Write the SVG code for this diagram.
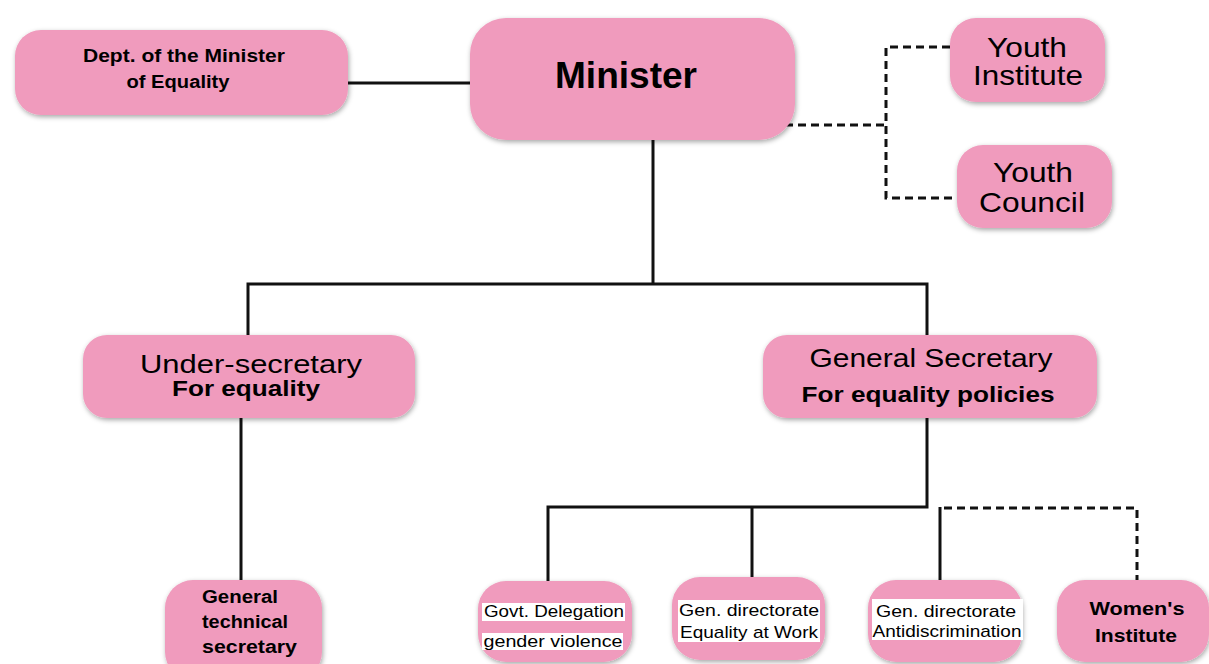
<svg xmlns="http://www.w3.org/2000/svg" width="1209" height="664" viewBox="0 0 1209 664">
<style>
.box{fill:#F09BBD;filter:url(#sh)}
.ln{stroke:#111;stroke-width:3;fill:none}
.dl{stroke:#111;stroke-width:3;fill:none;stroke-dasharray:8 5}
text{font-family:"Liberation Sans",Arial,sans-serif;fill:#000;text-anchor:middle}
.b{font-weight:bold}
.wb{fill:#fff}
</style>
<defs>
<filter id="sh" x="-10%" y="-10%" width="120%" height="130%">
<feDropShadow dx="1" dy="2" stdDeviation="2.5" flood-color="#000" flood-opacity="0.35"/>
</filter>
</defs>
<rect width="1209" height="664" fill="#fff"/>
<g id="connectors">
<line class="ln" x1="348" y1="83" x2="472" y2="83"/>
<polyline class="dl" points="785,125 886,125"/>
<polyline class="dl" points="950,47 886,47 886,198 957,198"/>
<line class="ln" x1="653" y1="140" x2="653" y2="284"/>
<polyline class="ln" points="248,337 248,284 927,284 927,337"/>
<line class="ln" x1="241" y1="418" x2="241" y2="582"/>
<polyline class="ln" points="927,418 927,507 548,507 548,582"/>
<line class="ln" x1="752" y1="507" x2="752" y2="578"/>
<line class="ln" x1="940" y1="507" x2="940" y2="580"/>
<polyline class="dl" points="944,508 1137,508 1137,580"/>
</g>
<g id="dept">
<rect class="box" x="15" y="30" width="333" height="85" rx="26"/>
<text class="b" x="184" y="62" font-size="18" textLength="202" lengthAdjust="spacingAndGlyphs">Dept. of the Minister</text>
<text class="b" x="178" y="88" font-size="18" textLength="103" lengthAdjust="spacingAndGlyphs">of Equality</text>
</g>
<g id="minister">
<rect class="box" x="470" y="18" width="325" height="122" rx="36"/>
<text class="b" x="626" y="88" font-size="37" textLength="142" lengthAdjust="spacingAndGlyphs">Minister</text>
</g>
<g id="youth-institute">
<rect class="box" x="950" y="18" width="155" height="84" rx="26"/>
<text x="1027" y="57" font-size="28" textLength="80" lengthAdjust="spacingAndGlyphs">Youth</text>
<text x="1028" y="85" font-size="28" textLength="110" lengthAdjust="spacingAndGlyphs">Institute</text>
</g>
<g id="youth-council">
<rect class="box" x="957" y="145" width="155" height="83" rx="26"/>
<text x="1033" y="182" font-size="28" textLength="80" lengthAdjust="spacingAndGlyphs">Youth</text>
<text x="1032" y="212" font-size="28" textLength="106" lengthAdjust="spacingAndGlyphs">Council</text>
</g>
<g id="under-secretary">
<rect class="box" x="83" y="335" width="332" height="83" rx="24"/>
<text x="251" y="373" font-size="25" textLength="222" lengthAdjust="spacingAndGlyphs">Under-secretary</text>
<text class="b" x="246" y="396" font-size="22" textLength="148" lengthAdjust="spacingAndGlyphs">For equality</text>
</g>
<g id="general-secretary">
<rect class="box" x="763" y="335" width="334" height="83" rx="24"/>
<text x="931" y="367" font-size="25" textLength="243" lengthAdjust="spacingAndGlyphs">General Secretary</text>
<text class="b" x="928" y="402" font-size="22" textLength="253" lengthAdjust="spacingAndGlyphs">For equality policies</text>
</g>
<g id="general-technical-secretary">
<rect class="box" x="165" y="580" width="157" height="100" rx="28"/>
<text class="b" x="202" y="603" font-size="18" text-anchor="start" style="text-anchor:start" textLength="76" lengthAdjust="spacingAndGlyphs">General</text>
<text class="b" x="202" y="628" font-size="18" style="text-anchor:start" textLength="86" lengthAdjust="spacingAndGlyphs">technical</text>
<text class="b" x="202" y="653" font-size="18" style="text-anchor:start" textLength="95" lengthAdjust="spacingAndGlyphs">secretary</text>
</g>
<g id="govt-delegation">
<rect class="box" x="478" y="581" width="154" height="81" rx="28"/>
<rect class="wb" x="482" y="603" width="143" height="18"/>
<rect class="wb" x="482" y="633" width="141" height="17"/>
<text x="554" y="617" font-size="17" textLength="140" lengthAdjust="spacingAndGlyphs">Govt. Delegation</text>
<text x="553" y="647" font-size="17" textLength="139" lengthAdjust="spacingAndGlyphs">gender violence</text>
</g>
<g id="equality-at-work">
<rect class="box" x="672" y="577" width="153" height="83" rx="28"/>
<rect class="wb" x="678" y="600" width="142" height="42"/>
<text x="749" y="616" font-size="17" textLength="140" lengthAdjust="spacingAndGlyphs">Gen. directorate</text>
<text x="749" y="638" font-size="17" textLength="138" lengthAdjust="spacingAndGlyphs">Equality at Work</text>
</g>
<g id="antidiscrimination">
<rect class="box" x="868" y="580" width="154" height="82" rx="28"/>
<rect class="wb" x="872" y="599" width="151" height="41"/>
<text x="946" y="617" font-size="17" textLength="140" lengthAdjust="spacingAndGlyphs">Gen. directorate</text>
<text x="947" y="637" font-size="17" textLength="149" lengthAdjust="spacingAndGlyphs">Antidiscrimination</text>
</g>
<g id="womens-institute">
<rect class="box" x="1057" y="580" width="152" height="82" rx="28"/>
<text class="b" x="1137" y="615" font-size="19" textLength="95" lengthAdjust="spacingAndGlyphs">Women's</text>
<text class="b" x="1136" y="642" font-size="19" textLength="82" lengthAdjust="spacingAndGlyphs">Institute</text>
</g>
</svg>
